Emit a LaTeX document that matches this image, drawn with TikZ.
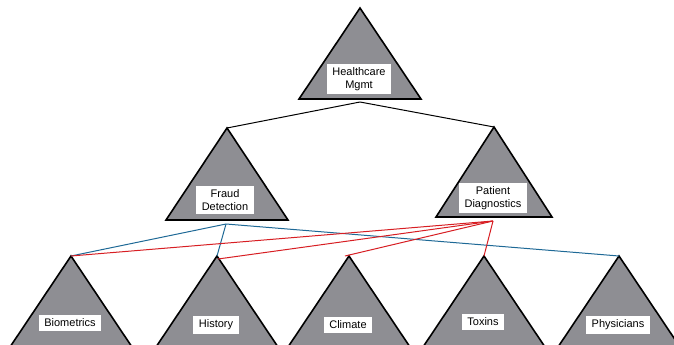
\documentclass[tikz,border=0pt]{standalone}
\usepackage{fontspec}
\setmainfont{Liberation Sans}
\usepackage{xcolor}
\usetikzlibrary{positioning,calc}

\definecolor{trigray}{RGB}{142,142,147}
\definecolor{fraudblue}{RGB}{30,105,150}
\definecolor{diagred}{RGB}{215,30,35}

\tikzset{
  tri/.style={draw=black, line width=1.6pt, fill=trigray, line join=miter},
  lbl/.style={fill=white, inner xsep=5.5pt, inner ysep=3.5pt, align=center,
              font=\fontsize{11}{13}\selectfont},
  link/.style={line width=1pt}
}

\begin{document}
\begin{tikzpicture}[x=1pt,y=-1pt]
    \useasboundingbox (0,0) rectangle (674,345);

    % Top level
    \coordinate (mgmt) at (360,8);
    \draw[tri] (mgmt) -- ++(61,91) -- ++(-122,0) -- cycle;
    \node[lbl] (mgmt-lbl) at (359,79) {Healthcare\\Mgmt};
    \coordinate (mgmt-base) at (360,102);

    % Middle level
    \coordinate (fraud) at (227,128);
    \draw[tri] (fraud) -- ++(61,92) -- ++(-122,0) -- cycle;
    \node[lbl] (fraud-lbl) at (225,200) {Fraud\\Detection};
    \coordinate (fraud-base) at (226,224);

    \coordinate (diag) at (494,127);
    \draw[tri] (diag) -- ++(58,90) -- ++(-116,0) -- cycle;
    \node[lbl] (diag-lbl) at (493,198) {Patient\\Diagnostics};
    \coordinate (diag-base) at (493,221);

    % Bottom level
    \foreach \name/\x/\y/\txt in {bio/71/323/Biometrics, hist/217/325/History,
        clim/349/325/Climate, tox/484/322/Toxins, phys/619/325/Physicians} {
        \coordinate (\name) at (\x,256);
        \draw[tri] (\name) -- ++(61,91) -- ++(-122,0) -- cycle;
        \node[lbl] (\name-lbl) at (\x-1,\y) {\txt};
    }

    % Links
    \draw[link] (mgmt-base) -- (fraud);
    \draw[link] (mgmt-base) -- (diag);

    \draw[link, fraudblue] (fraud-base) -- (bio);
    \draw[link, fraudblue] (fraud-base) -- (hist);
    \draw[link, fraudblue] (fraud-base) -- (phys);

    \draw[link, diagred] (diag-base) -- (bio);
    \draw[link, diagred] (diag-base) -- ($(hist)+(1,3)$);
    \draw[link, diagred] (diag-base) -- ($(clim)+(-4,0)$);
    \draw[link, diagred] (diag-base) -- (tox);
\end{tikzpicture}
\end{document}
